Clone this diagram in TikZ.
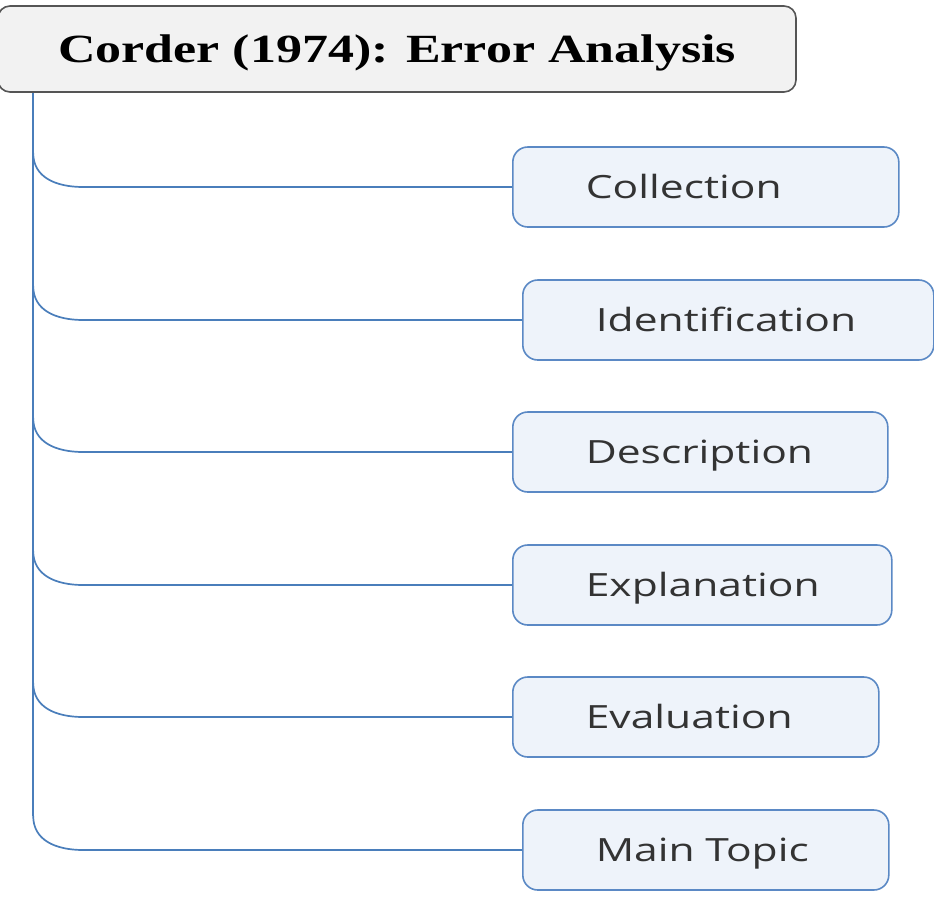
\documentclass[tikz,border=0pt]{standalone}
\usepackage{fontspec}
\usetikzlibrary{calc}
\newfontfamily\titlefont[FakeStretch=1.3]{Liberation Serif}
\newfontfamily\topicfont[FakeStretch=1.33]{Open Sans}
\definecolor{titleline}{HTML}{555555}
\definecolor{titlefill}{HTML}{F2F2F2}
\definecolor{topicline}{HTML}{5B89C5}
\definecolor{topicfill}{HTML}{EEF3FA}
\definecolor{topictext}{HTML}{333333}
\definecolor{branchline}{HTML}{4A7EBB}
\begin{document}
\begin{tikzpicture}[x=1pt,y=-1pt,
  titlebox/.style={draw=titleline, fill=titlefill, line width=1.6pt, rounded corners=12pt,
    minimum width=798pt, minimum height=86pt, text height=27pt, text depth=0pt,
    font=\titlefont\bfseries\fontsize{40}{48}\selectfont},
  topicbox/.style={draw=topicline, fill=topicfill, line width=1.6pt, rounded corners=15pt,
    anchor=west, text width=#1, align=left, inner xsep=73pt, minimum height=80pt,
    text height=23pt, text depth=0pt, text=topictext, font=\topicfont\fontsize{32}{38}\selectfont},
  branch/.style={draw=branchline, line width=1.7pt}]
\useasboundingbox (0,0) rectangle (934,905);
% Draw title
\node[titlebox] (title) at (397,49) {Corder (1974): Error Analysis};
\coordinate (trunk) at ([xshift=36pt]title.south west);
% Draw topics
\node[topicbox=240pt] (collect) at (512,187) {Collection};
\node[topicbox=265pt] (ident) at (522,320) {Identification};
\node[topicbox=229pt] (descr) at (512,452) {Description};
\node[topicbox=233pt] (expl) at (512,585) {Explanation};
\node[topicbox=220pt] (eval) at (512,717) {Evaluation};
\node[topicbox=220pt] (topic) at (522,850) {Main Topic};
% Draw trunk and branches
\draw[branch] (trunk) -- ($(trunk |- topic.west)+(0,-34)$);
\foreach \name in {collect,ident,descr,expl,eval,topic}
  \draw[branch] ($(trunk |- \name.west)+(0,-34)$) .. controls +(0,24) and +(-28,0) .. ($(trunk |- \name.west)+(50,0)$) -- (\name.west);
\end{tikzpicture}
\end{document}
